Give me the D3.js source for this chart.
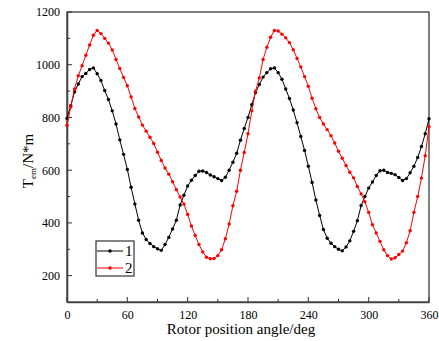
<!DOCTYPE html>
<html>
<head>
<meta charset="utf-8">
<script src="https://cdn.jsdelivr.net/npm/d3@7"></script>
<style>
  html, body { margin: 0; padding: 0; background: #fff; }
  svg { display: block; font-family: "Liberation Serif", "Times New Roman", serif; }
</style>
</head>
<body>
<svg id="chart" width="439" height="341"></svg>
<script>
// Rotor position angle (deg), one sample every 3.75 deg
const angles = d3.range(0, 360.001, 3.75);

// Series 1 (black)
const series1 = [
  797, 845, 897, 927, 955, 967, 982, 988, 966, 940, 902, 868, 825, 775, 715, 660,
  603, 535, 472, 410, 362, 337, 322, 310, 302, 296, 318, 345, 377, 410, 468, 505,
  540, 562, 580, 596, 597, 591, 582, 575, 568, 561, 573, 600, 630, 664, 714, 758,
  800, 848, 895, 925, 953, 970, 985, 988, 970, 945, 908, 872, 828, 780, 728, 675,
  615, 553, 487, 428, 375, 342, 323, 310, 300, 294, 309, 332, 368, 408, 466, 500,
  532, 555, 580, 598, 600, 591, 588, 583, 572, 561, 568, 590, 615, 648, 690, 738,
  795
];

// Series 2 (red)
const series2 = [
  770, 840, 908, 958, 996, 1036, 1075, 1112, 1130, 1118, 1100, 1082, 1056, 1020, 986, 952,
  920, 878, 834, 802, 771, 748, 725, 701, 668, 637, 608, 585, 556, 526, 498, 472,
  432, 388, 352, 318, 290, 270, 264, 265, 276, 298, 340, 396, 465, 520, 600, 667,
  738, 825, 900, 950, 1020, 1066, 1104, 1130, 1128, 1116, 1102, 1084, 1057, 1024, 992, 955,
  918, 873, 833, 800, 775, 754, 731, 703, 672, 645, 618, 592, 571, 538, 510, 480,
  440, 393, 362, 330, 298, 276, 263, 268, 280, 293, 325, 370, 440, 500, 570, 655,
  765
];

const xTicks = [0, 60, 120, 180, 240, 300, 360];
const yTicks = [200, 400, 600, 800, 1000, 1200];
const seriesNames = ["1", "2"];
const seriesColors = ["#000000", "#ff0000"];

const margin = { left: 67, right: 10, top: 12, bottom: 39 };
const W = 439, H = 341;
const svg = d3.select("#chart");

const x = d3.scaleLinear().domain([0, 360]).range([margin.left, W - margin.right]);
const y = d3.scaleLinear().domain([100, 1200]).range([H - margin.bottom, margin.top]);

// frame (top & right)
svg.append("rect")
  .attr("x", x(0)).attr("y", y(1200))
  .attr("width", x(360) - x(0)).attr("height", y(100) - y(1200))
  .attr("fill", "none").attr("stroke", "#000").attr("stroke-width", 1);

// minor ticks
const xMinor = d3.range(30, 360, 60);
const yMinor = d3.range(300, 1200, 200);

const gx = svg.append("g").attr("transform", `translate(0,${y(100)})`);
gx.call(d3.axisBottom(x).tickValues(xTicks).tickSize(0).tickPadding(8).tickFormat(d3.format("d")));
gx.select(".domain").attr("stroke", "#444").attr("stroke-width", 1.6);
gx.selectAll(".tick text").attr("font-size", 12).attr("fill", "#000")
  .attr("font-family", "Liberation Serif");
gx.selectAll(".tick.major").data(xTicks).enter().append("line")
  .attr("x1", d => x(d)).attr("x2", d => x(d)).attr("y1", 0).attr("y2", -5)
  .attr("stroke", "#333").attr("stroke-width", 1);
gx.selectAll(".tick.minor").data(xMinor).enter().append("line")
  .attr("x1", d => x(d)).attr("x2", d => x(d)).attr("y1", 0).attr("y2", -3)
  .attr("stroke", "#333").attr("stroke-width", 1);

const gy = svg.append("g").attr("transform", `translate(${x(0)},0)`);
gy.call(d3.axisLeft(y).tickValues(yTicks).tickSize(0).tickPadding(7).tickFormat(d3.format("d")));
gy.select(".domain").attr("stroke", "#444").attr("stroke-width", 1.6);
gy.selectAll(".tick text").attr("font-size", 12).attr("fill", "#000")
  .attr("font-family", "Liberation Serif");
gy.selectAll(".tick.major").data(yTicks).enter().append("line")
  .attr("y1", d => y(d)).attr("y2", d => y(d)).attr("x1", 0).attr("x2", 5)
  .attr("stroke", "#333").attr("stroke-width", 1);
gy.selectAll(".tick.minor").data(yMinor).enter().append("line")
  .attr("y1", d => y(d)).attr("y2", d => y(d)).attr("x1", 0).attr("x2", 3)
  .attr("stroke", "#333").attr("stroke-width", 1);

// series
const line = d3.line().x(d => x(d[0])).y(d => y(d[1]));
[series1, series2].forEach((vals, i) => {
  const pts = angles.map((a, k) => [a, vals[k]]);
  const g = svg.append("g");
  g.append("path").datum(pts).attr("d", line)
    .attr("fill", "none").attr("stroke", seriesColors[i]).attr("stroke-width", 1);
  g.selectAll("circle").data(pts).enter().append("circle")
    .attr("cx", d => x(d[0])).attr("cy", d => y(d[1])).attr("r", 1.7)
    .attr("fill", seriesColors[i]);
});

// axis titles
svg.append("text")
  .attr("x", 241).attr("y", 334)
  .attr("text-anchor", "middle").attr("font-size", 15)
  .text("Rotor position angle/deg");

const yt = svg.append("text")
  .attr("transform", "translate(33,161) rotate(-90)")
  .attr("text-anchor", "middle").attr("font-size", 15);
yt.append("tspan").text("T");
yt.append("tspan").attr("font-size", 9).attr("dy", 3).text("em");
yt.append("tspan").attr("dy", -3).text("/N*m");

// legend
const lg = svg.append("g");
lg.append("rect").attr("x", 96).attr("y", 241).attr("width", 38).attr("height", 35)
  .attr("fill", "#fff").attr("stroke", "#333").attr("stroke-width", 1.2);
seriesNames.forEach((name, i) => {
  const yy = 251 + i * 17;
  lg.append("line").attr("x1", 97).attr("x2", 123).attr("y1", yy).attr("y2", yy)
    .attr("stroke", seriesColors[i]).attr("stroke-width", 1);
  lg.append("circle").attr("cx", 110).attr("cy", yy).attr("r", 1.7).attr("fill", seriesColors[i]);
  lg.append("text").attr("x", 125).attr("y", yy + 5).attr("font-size", 15).text(name);
});
</script>
</body>
</html>
